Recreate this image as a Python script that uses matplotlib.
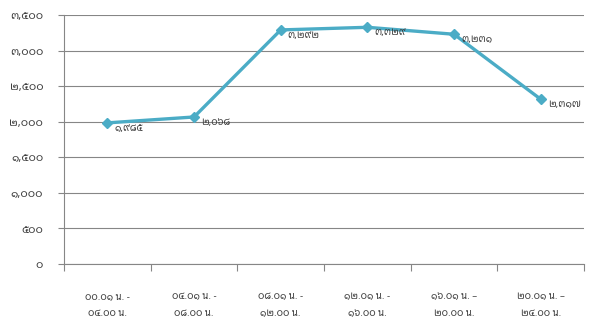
import matplotlib
matplotlib.use('Agg')
import matplotlib.pyplot as plt
from matplotlib.ticker import FixedLocator, FuncFormatter

# data
periods = ['๐๐.๐๑ น. -\n๐๔.๐๐ น.', '๐๔.๐๑ น. -\n๐๘.๐๐ น.', '๐๘.๐๑ น. -\n๑๒.๐๐ น.',
           '๑๒.๐๑ น. -\n๑๖.๐๐ น.', '๑๖.๐๑ น. –\n๒๐.๐๐ น.', '๒๐.๐๑ น. –\n๒๔.๐๐ น.']
counts = [1985, 2068, 3292, 3329, 3231, 2317]
y_ticks = [0, 500, 1000, 1500, 2000, 2500, 3000, 3500]

THAI = str.maketrans('0123456789', '๐๑๒๓๔๕๖๗๘๙')


def thai_num(v):
    return '{:,}'.format(int(v)).translate(THAI)


plt.rcParams['font.family'] = ['Noto Sans Thai Looped', 'DejaVu Sans']
line_color = '#4BACC6'
grid_color = '#868686'

fig = plt.figure(figsize=(5.93, 3.22), dpi=100)
ax = fig.add_axes([0.108, 0.180, 0.877, 0.773])

x = list(range(len(counts)))
ax.plot(x, counts, color=line_color, lw=2.4, marker='D', ms=5.5, zorder=3)

for xi, v in zip(x, counts):
    ax.annotate(thai_num(v), (xi, v), xytext=(5, -4), textcoords='offset points',
                ha='left', va='center', fontsize=7, color='#404040')

ax.set_xlim(-0.5, len(counts) - 0.5)
ax.set_ylim(0, 3500)
ax.set_yticks(y_ticks)
ax.yaxis.set_major_formatter(FuncFormatter(lambda v, p: thai_num(v)))
ax.grid(axis='y', color=grid_color, lw=0.8)
ax.set_axisbelow(True)

ax.set_xticks(x)
ax.set_xticklabels(periods, linespacing=2.1)
ax.xaxis.set_minor_locator(FixedLocator([i - 0.5 for i in range(len(counts) + 1)]))
ax.tick_params(axis='x', which='major', length=0, pad=20, labelsize=7, labelcolor='#404040')
ax.tick_params(axis='x', which='minor', length=5, color=grid_color, width=0.8)
ax.tick_params(axis='y', length=4, color=grid_color, width=0.8, labelsize=8,
               labelcolor='#404040', pad=11)

for s in ['top', 'right']:
    ax.spines[s].set_visible(False)
for s in ['left', 'bottom']:
    ax.spines[s].set_color(grid_color)
    ax.spines[s].set_linewidth(0.8)

fig.savefig('out.png', dpi=100)
